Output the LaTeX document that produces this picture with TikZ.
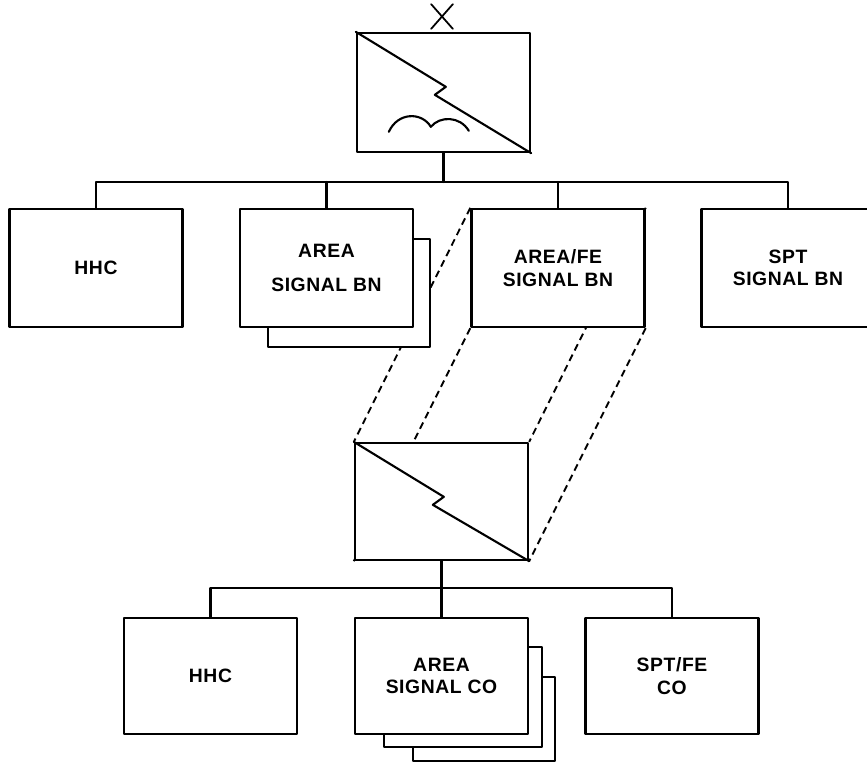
\documentclass[tikz,border=0pt]{standalone}
\usepackage{fontspec}
\setmainfont{Liberation Sans}
\newfontfamily\unitfont{Liberation Sans}[LetterSpace=3]
\usetikzlibrary{calc,backgrounds,shapes.misc}

% một điểm ảnh của hình gốc
\def\px{0.3mm}

\tikzset{
  unitbox/.style={draw, fill=white, line width=2pt, inner sep=0pt,
    minimum width=173*\px, minimum height=118*\px, align=center,
    font=\unitfont\fontsize{16.5}{19}\selectfont\bfseries},
  shadowbox/.style={draw, fill=white, line width=2pt, inner sep=0pt},
  symbox/.style={draw, fill=white, line width=2pt, inner sep=0pt,
    minimum width=173*\px, minimum height=118*\px},
  symline/.style={line width=1.8pt},
  tieline/.style={line width=2pt},
  projline/.style={line width=1.6pt, dash pattern=on 6pt off 4pt}
}

% tia chớp qua ô ký hiệu
\newcommand{\bolt}[1]{%
  \draw[symline] (#1.north west) -- ($(#1.north west)+(90,55)$)
    -- ($(#1.north west)+(79,63)$) -- (#1.south east);}

\begin{document}
\begin{tikzpicture}[x=\px,y=-\px,line join=round,line cap=round]

  % Khung hình
  \clip (0,0) rectangle (867,764);

  % Độ cao các thanh nối
  \def\ytop{182}
  \def\ybot{588}

  % Ký hiệu chỉ huy phía trên
  \node[draw, cross out, line width=1.5pt, inner sep=0pt, minimum width=20*\px, minimum height=23*\px] (xmark) at (442,16.5) {};
  \node[symbox, minimum height=119*\px] (cmd) at (443.5,92.5) {};
  \bolt{cmd}
  \draw[symline] ($(cmd.north west)+(33,100)$) .. controls ($(cmd.north west)+(42,80)$) and ($(cmd.north west)+(66,80)$) .. ($(cmd.north west)+(75,95)$)
    .. controls ($(cmd.north west)+(84,84)$) and ($(cmd.north west)+(104,84)$) .. ($(cmd.north west)+(113,99)$);

  % Hàng tiểu đoàn
  \node[unitbox] (hhcA) at (96,268) {HHC};
  \node[shadowbox, minimum width=162*\px, minimum height=108*\px] (areaBNs) at (349,293) {};
  \node[unitbox] (areaBN) at (326.5,268) {AREA\\[10pt]SIGNAL BN};
  \node[unitbox] (feBN) at (558,268) {AREA/FE\\SIGNAL BN};
  \node[unitbox] (sptBN) at (788,268) {SPT\\SIGNAL BN};

  % Ký hiệu giữa
  \node[symbox, minimum height=117*\px] (sig) at (441.5,501.5) {};
  \bolt{sig}

  % Hàng đại đội
  \node[unitbox, minimum height=116*\px] (hhcB) at (210.5,676) {HHC};
  \node[shadowbox, minimum width=142*\px, minimum height=84*\px] (areaCOs2) at (484,719) {};
  \node[shadowbox, minimum width=158*\px, minimum height=100*\px] (areaCOs1) at (463,697) {};
  \node[unitbox, minimum height=116*\px] (areaCO) at (441.5,676) {AREA\\SIGNAL CO};
  \node[unitbox, minimum height=116*\px] (sptCO) at (672,676) {SPT/FE\\CO};

  % Thanh nối trên
  \coordinate (busTop) at (443,\ytop);
  \draw[tieline] (hhcA.north) |- (sptBN.north |- busTop) -- (sptBN.north);
  \draw[tieline] (cmd.south) -- (cmd.south |- busTop);
  \foreach \u in {areaBN,feBN}
    \draw[tieline] (\u.north) -- (\u.north |- busTop);

  % Thanh nối dưới
  \coordinate (busBot) at (442,\ybot);
  \draw[tieline] (hhcB.north) |- (sptCO.north |- busBot) -- (sptCO.north);
  \draw[tieline] (sig.south) -- (sig.south |- busBot);
  \draw[tieline] (areaCO.north) -- (areaCO.north |- busBot);

  % Đường chiếu nét đứt
  \begin{scope}[on background layer]
    \foreach \c in {north west,north east,south west,south east}
      \draw[projline] (feBN.\c) -- (sig.\c);
  \end{scope}

\end{tikzpicture}
\end{document}
